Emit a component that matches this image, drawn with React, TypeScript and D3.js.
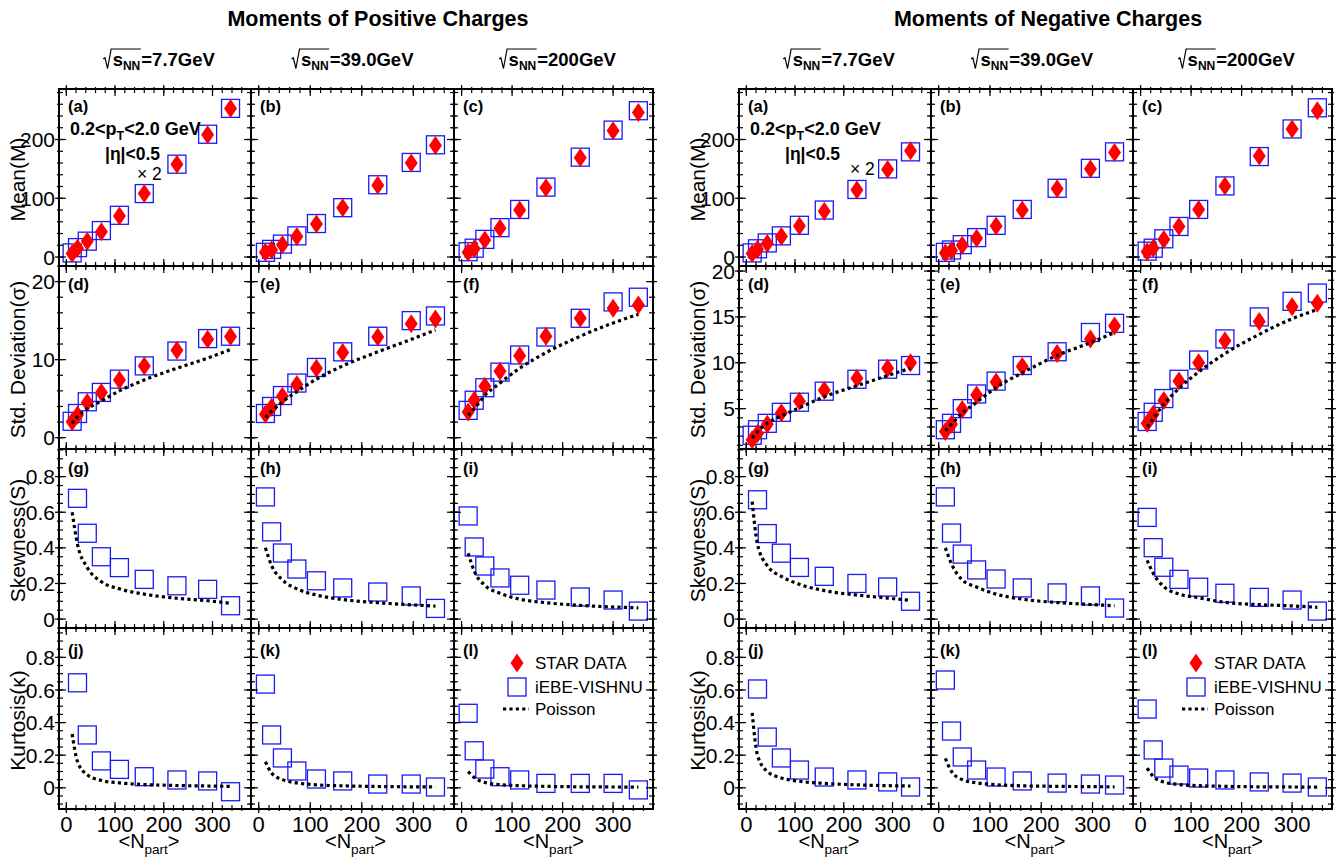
import React, { useEffect, useRef } from "react";
import * as d3 from "d3";

// ---------------- labels ----------------
const energyLabels = ["7.7GeV", "39.0GeV", "200GeV"];
const panelLetters = ["(a)", "(b)", "(c)", "(d)", "(e)", "(f)", "(g)", "(h)", "(i)", "(j)", "(k)", "(l)"];
const rowTitles = ["Mean(M)", "Std. Deviation(\u03C3)", "Skewness(S)", "Kurtosis(\u03BA)"];
const legendLabels = ["STAR DATA", "iEBE-VISHNU", "Poisson"];
const xTickValues = [0, 100, 200, 300];
const meanTicks = [0, 100, 200];
const stdTicksPos = [0, 10, 20];
const stdTicksNeg = [5, 10, 15, 20];
const momentTicks = [0, 0.2, 0.4, 0.6, 0.8];

// ---------------- <Npart> per energy ----------------
const npart77 = [12, 23, 43, 72, 109, 160, 227, 290, 337];
const npart39 = [13, 25, 46, 74, 112, 163, 231, 296, 343];
const npart200 = [13, 25, 46, 76, 115, 167, 235, 300, 350];

// ---------------- positive charges ----------------
const posMeanStar77 = [6, 15, 27, 43, 70, 108, 158, 208, 253];
const posMeanEbe77 = [7, 16, 27, 45, 71, 108, 158, 209, 253];
const posMeanStar39 = [8, 12, 21, 35, 56, 84, 122, 160, 190];
const posMeanEbe39 = [8, 13, 22, 36, 57, 84, 123, 161, 191];
const posMeanStar200 = [8, 14, 29, 49, 80, 118, 169, 215, 246];
const posMeanEbe200 = [9, 15, 30, 50, 81, 119, 170, 216, 249];

const posStdStar77 = [2.05, 2.9, 4.5, 5.8, 7.4, 9.2, 11.2, 12.6, 12.95];
const posStdEbe77 = [2.1, 3.1, 4.6, 5.8, 7.5, 9.2, 11.1, 12.7, 13.0];
const posStdPoi77 = [1.8, 2.7, 3.7, 4.7, 6.0, 7.4, 8.9, 10.2, 11.3];
const posStdStar39 = [3.0, 3.9, 5.3, 6.8, 8.9, 10.9, 12.9, 14.6, 15.2];
const posStdEbe39 = [3.1, 4.0, 5.4, 7.0, 9.0, 11.0, 13.0, 15.0, 15.6];
const posStdPoi39 = [2.6, 3.4, 4.6, 5.9, 7.5, 9.2, 11.0, 12.6, 13.8];
const posStdStar200 = [3.3, 4.8, 6.6, 8.5, 10.5, 13.0, 15.3, 16.6, 17.0];
const posStdEbe200 = [3.5, 4.8, 6.4, 8.4, 10.6, 12.9, 15.3, 17.4, 18.0];
const posStdPoi200 = [2.9, 3.7, 5.4, 7.0, 8.9, 10.9, 13.0, 14.7, 15.8];

const posSkewEbe77 = [0.678, 0.482, 0.35, 0.289, 0.223, 0.187, 0.167, 0.075];
const posSkewPoi77 = [0.6, 0.42, 0.29, 0.21, 0.17, 0.14, 0.117, 0.103, 0.089];
const posSkewEbe39 = [0.686, 0.49, 0.371, 0.281, 0.215, 0.175, 0.152, 0.13, 0.06];
const posSkewPoi39 = [0.4, 0.3, 0.22, 0.17, 0.135, 0.11, 0.092, 0.08, 0.073];
const posSkewEbe200 = [0.579, 0.405, 0.298, 0.231, 0.19, 0.163, 0.124, 0.107, 0.045];
const posSkewPoi200 = [0.37, 0.27, 0.19, 0.145, 0.112, 0.092, 0.077, 0.068, 0.063];

const posKurtEbe77 = [0.644, 0.324, 0.165, 0.113, 0.068, 0.048, 0.042, -0.024];
const posKurtPoi77 = [0.33, 0.16, 0.08, 0.045, 0.03, 0.02, 0.014, 0.011, 0.009];
const posKurtEbe39 = [0.636, 0.324, 0.183, 0.103, 0.054, 0.042, 0.023, 0.023, 0.005];
const posKurtPoi39 = [0.16, 0.09, 0.05, 0.03, 0.018, 0.012, 0.008, 0.006, 0.005];
const posKurtEbe200 = [0.457, 0.227, 0.115, 0.068, 0.048, 0.027, 0.027, 0.027, -0.013];
const posKurtPoi200 = [0.1, 0.063, 0.033, 0.02, 0.013, 0.009, 0.006, 0.005, 0.004];

// ---------------- negative charges ----------------
const negMeanStar77 = [6, 13, 23, 35, 53, 78, 114, 149, 181];
const negMeanEbe77 = [7, 14, 24, 36, 54, 80, 115, 150, 179];
const negMeanStar39 = [7, 11, 20, 32, 53, 80, 116, 150, 178];
const negMeanEbe39 = [8, 12, 21, 33, 54, 81, 117, 151, 179];
const negMeanStar200 = [9, 15, 30, 52, 81, 121, 172, 218, 249];
const negMeanEbe200 = [10, 15, 31, 52, 81, 121, 171, 218, 254];

const negStdStar77 = [1.6, 2.3, 3.3, 4.55, 5.8, 7.0, 8.3, 9.4, 10.0];
const negStdEbe77 = [2.1, 2.7, 3.4, 4.6, 5.7, 6.9, 8.2, 9.3, 9.7];
const negStdPoi77 = [1.8, 2.5, 3.4, 4.2, 5.1, 6.3, 7.5, 8.6, 9.4];
const negStdStar39 = [2.5, 3.3, 4.9, 6.5, 7.9, 9.6, 11.0, 12.6, 14.0];
const negStdEbe39 = [2.7, 3.4, 5.0, 6.6, 8.0, 9.7, 11.2, 13.3, 14.3];
const negStdPoi39 = [2.6, 3.3, 4.5, 5.7, 7.3, 8.9, 10.8, 12.2, 13.3];
const negStdStar200 = [3.4, 4.4, 5.9, 8.0, 10.0, 12.4, 14.5, 16.1, 16.5];
const negStdEbe200 = [3.6, 4.6, 6.1, 8.2, 10.3, 12.6, 15.0, 16.7, 17.6];
const negStdPoi200 = [3.0, 3.9, 5.5, 7.2, 9.0, 11.0, 13.1, 14.8, 15.8];

const negSkewEbe77 = [0.67, 0.48, 0.37, 0.29, 0.24, 0.2, 0.18, 0.1];
const negSkewPoi77 = [0.66, 0.42, 0.3, 0.24, 0.195, 0.16, 0.135, 0.118, 0.105];
const negSkewEbe39 = [0.686, 0.483, 0.365, 0.276, 0.225, 0.175, 0.147, 0.13, 0.062];
const negSkewPoi39 = [0.4, 0.31, 0.22, 0.18, 0.14, 0.112, 0.093, 0.082, 0.075];
const negSkewEbe200 = [0.571, 0.401, 0.291, 0.223, 0.179, 0.145, 0.122, 0.107, 0.045];
const negSkewPoi200 = [0.33, 0.257, 0.182, 0.141, 0.12, 0.094, 0.081, 0.074, 0.066];

const negKurtEbe77 = [0.606, 0.311, 0.183, 0.109, 0.066, 0.048, 0.036, 0.005];
const negKurtPoi77 = [0.46, 0.2, 0.1, 0.06, 0.04, 0.027, 0.018, 0.013, 0.011];
const negKurtEbe39 = [0.661, 0.348, 0.189, 0.109, 0.066, 0.042, 0.029, 0.023, 0.017];
const negKurtPoi39 = [0.18, 0.1, 0.05, 0.03, 0.019, 0.012, 0.009, 0.007, 0.006];
const negKurtEbe200 = [0.483, 0.232, 0.121, 0.078, 0.06, 0.048, 0.036, 0.029, 0.005];
const negKurtPoi200 = [0.12, 0.07, 0.035, 0.02, 0.013, 0.009, 0.006, 0.005, 0.004];

// ---------------- layout ----------------
const W = 1342;
const H = 857;
const FONT = "'Liberation Sans', Arial, Helvetica, sans-serif";
const ROW_EDGES = [89, 266, 449, 628, 809];
const X_DOMAIN = [-15, 379];
const RED = "#ff0000";
const BLUE = "#1a1af5";
const npartSets = [npart77, npart39, npart200];

type Panel = { star?: number[]; ebe: number[]; poisson?: number[] };

const groups = [
  {
    title: "Moments of Positive Charges",
    titleX: 378,
    frames: [59, 251, 454, 653],
    yDomains: [[-15.3, 286], [-1.45, 22], [-0.05, 0.955], [-0.13, 0.98]],
    yMajors: [meanTicks, stdTicksPos, momentTicks, momentTicks],
    yMinorSteps: [20, 2, 0.05, 0.05],
    times2: [137, 180],
    panels: [
      { star: posMeanStar77, ebe: posMeanEbe77 },
      { star: posMeanStar39, ebe: posMeanEbe39 },
      { star: posMeanStar200, ebe: posMeanEbe200 },
      { star: posStdStar77, ebe: posStdEbe77, poisson: posStdPoi77 },
      { star: posStdStar39, ebe: posStdEbe39, poisson: posStdPoi39 },
      { star: posStdStar200, ebe: posStdEbe200, poisson: posStdPoi200 },
      { ebe: posSkewEbe77, poisson: posSkewPoi77 },
      { ebe: posSkewEbe39, poisson: posSkewPoi39 },
      { ebe: posSkewEbe200, poisson: posSkewPoi200 },
      { ebe: posKurtEbe77, poisson: posKurtPoi77 },
      { ebe: posKurtEbe39, poisson: posKurtPoi39 },
      { ebe: posKurtEbe200, poisson: posKurtPoi200 },
    ] as Panel[],
  },
  {
    title: "Moments of Negative Charges",
    titleX: 1048,
    frames: [739, 931, 1133, 1332],
    yDomains: [[-15.3, 286], [0.6, 20.55], [-0.05, 0.955], [-0.13, 0.98]],
    yMajors: [meanTicks, stdTicksNeg, momentTicks, momentTicks],
    yMinorSteps: [20, 1, 0.05, 0.05],
    times2: [850, 175],
    panels: [
      { star: negMeanStar77, ebe: negMeanEbe77 },
      { star: negMeanStar39, ebe: negMeanEbe39 },
      { star: negMeanStar200, ebe: negMeanEbe200 },
      { star: negStdStar77, ebe: negStdEbe77, poisson: negStdPoi77 },
      { star: negStdStar39, ebe: negStdEbe39, poisson: negStdPoi39 },
      { star: negStdStar200, ebe: negStdEbe200, poisson: negStdPoi200 },
      { ebe: negSkewEbe77, poisson: negSkewPoi77 },
      { ebe: negSkewEbe39, poisson: negSkewPoi39 },
      { ebe: negSkewEbe200, poisson: negSkewPoi200 },
      { ebe: negKurtEbe77, poisson: negKurtPoi77 },
      { ebe: negKurtEbe39, poisson: negKurtPoi39 },
      { ebe: negKurtEbe200, poisson: negKurtPoi200 },
    ] as Panel[],
  },
];

const COL_TITLE_SHIFT = [4, 0, 4];
const XTITLE_SHIFT = [-6, 3, 0];
const LABEL_DY = [23, 24, 24.5, 28];

function diamondPath(cx: number, cy: number, w: number, h: number) {
  return `M${cx},${cy - h / 2}L${cx + w / 2},${cy}L${cx},${cy + h / 2}L${cx - w / 2},${cy}Z`;
}

function tickValues(dom: number[], step: number) {
  const a = Math.ceil(dom[0] / step - 1e-9);
  const b = Math.floor(dom[1] / step + 1e-9);
  return d3.range(a, b + 1).map((i) => +(i * step).toFixed(6));
}

function drawSqrtTitle(g: any, cx: number, y: number, label: string) {
  const t = g.append("g");
  const sT = t.append("text").attr("font-weight", "bold").attr("font-size", 18.5).attr("y", y).text("s");
  const nT = t.append("text").attr("font-weight", "bold").attr("font-size", 12).attr("y", y + 4).text("NN");
  const rT = t.append("text").attr("font-weight", "bold").attr("font-size", 18.5).attr("y", y).text("=" + label);
  const ws = (sT.node() as SVGTextElement).getComputedTextLength();
  const wn = (nT.node() as SVGTextElement).getComputedTextLength();
  const wr = (rT.node() as SVGTextElement).getComputedTextLength();
  const rad = 9.5;
  const total = rad + ws + wn + 1 + wr;
  const x = cx - total / 2;
  sT.attr("x", x + rad);
  nT.attr("x", x + rad + ws);
  rT.attr("x", x + rad + ws + wn + 1);
  t.append("path")
    .attr("d", `M${x},${y - 7}L${x + 1.8},${y - 8.2}L${x + 4.4},${y + 2.5}L${x + 8},${y - 17}L${x + rad + ws + wn + 0.5},${y - 17}`)
    .attr("fill", "none")
    .attr("stroke", "#000")
    .attr("stroke-width", 1.2);
}

function drawGroup(svg: any, grp: (typeof groups)[number]) {
  const root = svg.append("g");
  const F = grp.frames;

  root
    .append("text")
    .attr("x", grp.titleX)
    .attr("y", 26)
    .attr("text-anchor", "middle")
    .attr("font-weight", "bold")
    .attr("font-size", 21.5)
    .text(grp.title);

  for (let c = 0; c < 3; c++) {
    drawSqrtTitle(root, (F[c] + F[c + 1]) / 2 + COL_TITLE_SHIFT[c], 66, energyLabels[c]);
  }

  for (let r = 0; r < 4; r++) {
    const y0 = ROW_EDGES[r];
    const y1 = ROW_EDGES[r + 1];
    // y title
    root
      .append("text")
      .attr("transform", `translate(${F[0] - 34},${(y0 + y1) / 2 + 2}) rotate(-90)`)
      .attr("text-anchor", "middle")
      .attr("font-size", 21)
      .text(rowTitles[r]);

    for (let c = 0; c < 3; c++) {
      const x0 = F[c];
      const x1 = F[c + 1];
      const xs = d3.scaleLinear().domain(X_DOMAIN).range([x0, x1]);
      const dom = grp.yDomains[r];
      const ys = d3.scaleLinear().domain(dom).range([y1, y0]);
      const p = grp.panels[r * 3 + c];
      const np = npartSets[c];
      const g = root.append("g");

      // iEBE-VISHNU squares
      const ebeN = np.slice(np.length - p.ebe.length);
      g.selectAll(null)
        .data(p.ebe)
        .join("rect")
        .attr("x", (_: number, i: number) => xs(ebeN[i]) - 9)
        .attr("y", (d: number) => ys(d) - 9)
        .attr("width", 18)
        .attr("height", 18)
        .attr("fill", "none")
        .attr("stroke", BLUE)
        .attr("stroke-width", 1.3);

      // STAR diamonds
      if (p.star) {
        g.selectAll(null)
          .data(p.star)
          .join("path")
          .attr("d", (d: number, i: number) => diamondPath(xs(np[i]), ys(d), 13, 19))
          .attr("fill", RED);
      }

      // Poisson
      if (p.poisson) {
        const line = d3
          .line<number>()
          .x((_, i) => xs(np[i]))
          .y((d) => ys(d))
          .curve(d3.curveMonotoneX);
        g.append("path")
          .attr("d", line(p.poisson))
          .attr("fill", "none")
          .attr("stroke", "#000")
          .attr("stroke-width", 3.2)
          .attr("stroke-dasharray", "3.2 3.2");
      }

      // ticks
      const tk = g.append("g").attr("stroke", "#000").attr("stroke-width", 1.2);
      const yMin = tickValues(dom, grp.yMinorSteps[r]);
      const yMaj = grp.yMajors[r];
      [x0, x1].forEach((xx, side) => {
        const dir = side === 0 ? 1 : -1;
        yMin.forEach((v) => {
          tk.append("line").attr("x1", xx - dir * 2).attr("x2", xx + dir * 4).attr("y1", ys(v)).attr("y2", ys(v));
        });
        yMaj.forEach((v) => {
          tk.append("line").attr("x1", xx - dir * 4).attr("x2", xx + dir * 7).attr("y1", ys(v)).attr("y2", ys(v));
        });
      });
      const xMin = tickValues(X_DOMAIN, 20);
      [y1, y0].forEach((yy, side) => {
        const dir = side === 0 ? -1 : 1;
        xMin.forEach((v) => {
          tk.append("line").attr("y1", yy - dir * 2).attr("y2", yy + dir * 4).attr("x1", xs(v)).attr("x2", xs(v));
        });
        xTickValues.forEach((v) => {
          tk.append("line").attr("y1", yy - dir * 4).attr("y2", yy + dir * 7).attr("x1", xs(v)).attr("x2", xs(v));
        });
      });

      // frame
      g.append("rect")
        .attr("x", x0)
        .attr("y", y0)
        .attr("width", x1 - x0)
        .attr("height", y1 - y0)
        .attr("fill", "none")
        .attr("stroke", "#000")
        .attr("stroke-width", 2);

      // panel letter
      g.append("text")
        .attr("x", x0 + 9)
        .attr("y", y0 + LABEL_DY[r])
        .attr("font-weight", "bold")
        .attr("font-size", 16.5)
        .text(panelLetters[r * 3 + c]);

      // y tick labels
      if (c === 0) {
        yMaj.forEach((v) => {
          root
            .append("text")
            .attr("x", x0 - 4)
            .attr("y", ys(v))
            .attr("dy", "0.36em")
            .attr("text-anchor", "end")
            .attr("font-size", 21)
            .text(String(v));
        });
      }

      // x tick labels + title
      if (r === 3) {
        xTickValues.forEach((v) => {
          root
            .append("text")
            .attr("x", xs(v))
            .attr("y", 832)
            .attr("text-anchor", "middle")
            .attr("font-size", 22)
            .text(String(v));
        });
        const xt = root
          .append("text")
          .attr("x", (x0 + x1) / 2 + XTITLE_SHIFT[c])
          .attr("y", 848)
          .attr("text-anchor", "middle")
          .attr("font-size", 20);
        xt.append("tspan").text("<N");
        xt.append("tspan").attr("dy", 6).attr("font-size", 13.5).text("part");
        xt.append("tspan").attr("dy", -6).text(">");
      }

      // annotation in (a)
      if (r === 0 && c === 0) {
        const a1 = g.append("text").attr("x", x0 + 11).attr("y", y0 + 46).attr("font-weight", "bold").attr("font-size", 18);
        a1.append("tspan").text("0.2<p");
        a1.append("tspan").attr("dy", 5).attr("font-size", 12.5).text("T");
        a1.append("tspan").attr("dy", -5).text("<2.0 GeV");
        g.append("text").attr("x", x0 + 46).attr("y", y0 + 71).attr("font-weight", "bold").attr("font-size", 17.5).text("|\u03B7|<0.5");
        g.append("text").attr("x", grp.times2[0]).attr("y", grp.times2[1]).attr("font-size", 17.5).text("\u00D7 2");
      }

      // legend in (l)
      if (r === 3 && c === 2) {
        const lx = x0 + 63;
        g.append("path").attr("d", diamondPath(lx, 663, 13, 19)).attr("fill", RED);
        g.append("rect").attr("x", lx - 9).attr("y", 678).attr("width", 18).attr("height", 18).attr("fill", "none").attr("stroke", BLUE).attr("stroke-width", 1.3);
        g.append("line").attr("x1", lx - 14).attr("x2", lx + 12).attr("y1", 709).attr("y2", 709).attr("stroke", "#000").attr("stroke-width", 3.2).attr("stroke-dasharray", "3.2 3.2");
        legendLabels.forEach((lab, i) => {
          g.append("text").attr("x", x0 + 81).attr("y", [669, 693, 715][i]).attr("font-size", 17).text(lab);
        });
      }
    }
  }
}

export default function App() {
  const ref = useRef<SVGSVGElement | null>(null);
  useEffect(() => {
    const svg = d3.select(ref.current);
    svg.selectAll("*").remove();
    groups.forEach((grp) => drawGroup(svg, grp));
  }, []);
  return (
    <svg
      ref={ref}
      width={W}
      height={H}
      style={{ position: "absolute", left: 0, top: 0, background: "#fff", fontFamily: FONT }}
      fontFamily={FONT}
    />
  );
}
